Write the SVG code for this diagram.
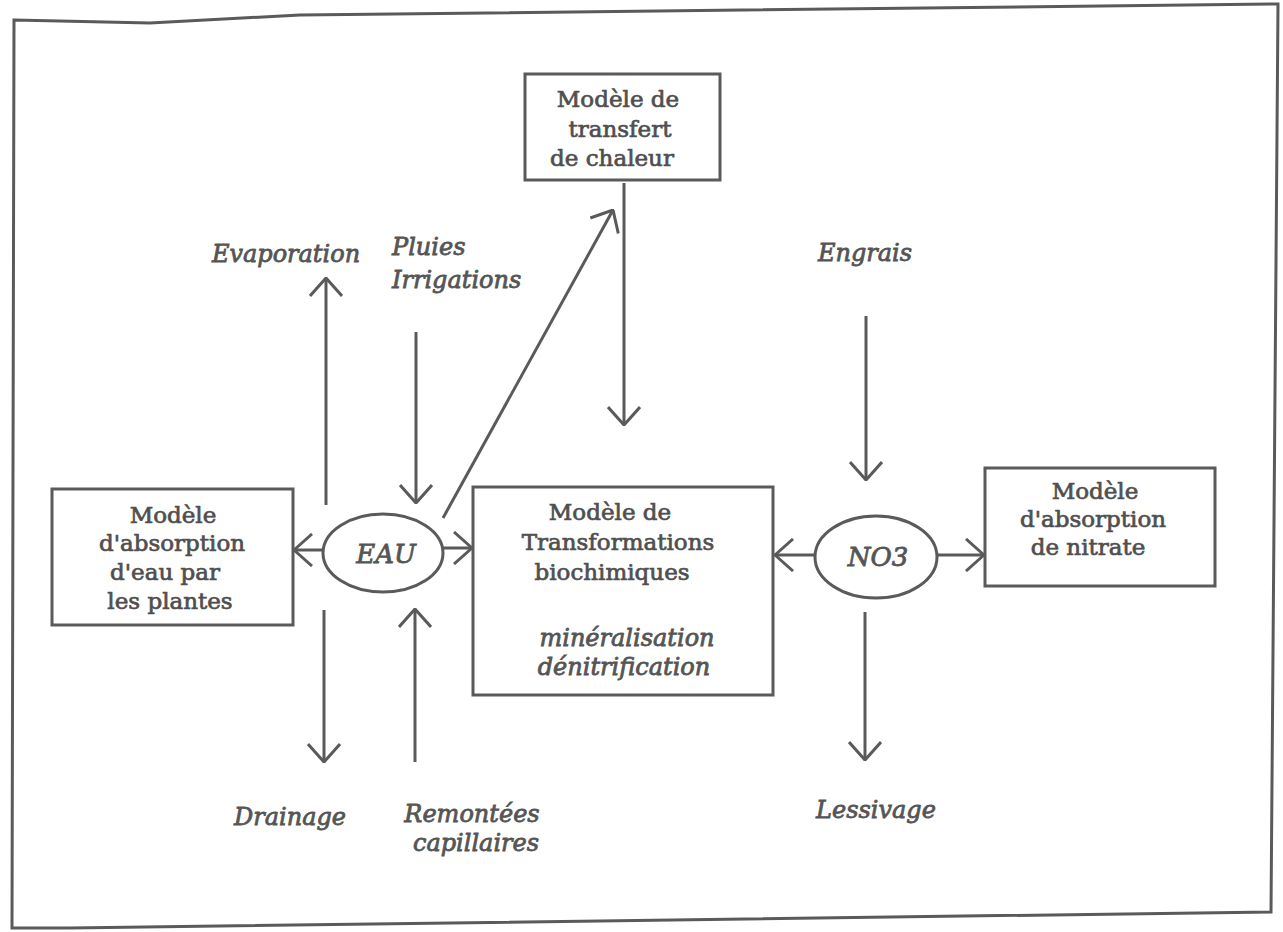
<svg xmlns="http://www.w3.org/2000/svg" width="1283" height="932" viewBox="0 0 1283 932">
<defs>
<style>
.ln{stroke:#5a5a5a;stroke-width:3;fill:none}
.bx{stroke:#5a5a5a;stroke-width:3;fill:#fff}
.t{font-family:"DejaVu Serif","Liberation Serif",serif;font-size:23px;fill:#4f4f4f;stroke:#4f4f4f;stroke-width:0.7;text-anchor:middle}
.i{font-family:"DejaVu Serif","Liberation Serif",serif;font-size:24px;font-style:italic;fill:#555;stroke:#555;stroke-width:0.8;text-anchor:middle}
.e{font-size:26px}
</style>
<marker id="ah" viewBox="0 0 20 34" refX="19" refY="17" markerWidth="20" markerHeight="34" markerUnits="userSpaceOnUse" orient="auto">
<path d="M1,1 L19,17 L1,33" fill="none" stroke="#5a5a5a" stroke-width="3"/>
</marker>
</defs>
<rect width="1283" height="932" fill="#fff"/>
<path class="ln" d="M14,20 L150,23 L300,15 L1278,4 L1271,912 L70,928 L12,928 Z"/>

<g id="connectors">
<line class="ln" x1="326" y1="505" x2="326" y2="278" marker-end="url(#ah)"/>
<line class="ln" x1="416" y1="332" x2="416" y2="503" marker-end="url(#ah)"/>
<line class="ln" x1="443" y1="518" x2="613" y2="210" marker-end="url(#ah)"/>
<line class="ln" x1="624" y1="183" x2="624" y2="425" marker-end="url(#ah)"/>
<line class="ln" x1="866" y1="316" x2="866" y2="480" marker-end="url(#ah)"/>
<line class="ln" x1="323" y1="550" x2="294" y2="550" marker-end="url(#ah)"/>
<line class="ln" x1="443" y1="548" x2="472" y2="548" marker-end="url(#ah)"/>
<line class="ln" x1="815" y1="555" x2="775" y2="555" marker-end="url(#ah)"/>
<line class="ln" x1="938" y1="555" x2="984" y2="555" marker-end="url(#ah)"/>
<line class="ln" x1="324" y1="610" x2="324" y2="762" marker-end="url(#ah)"/>
<line class="ln" x1="415" y1="762" x2="415" y2="609" marker-end="url(#ah)"/>
<line class="ln" x1="865" y1="612" x2="865" y2="760" marker-end="url(#ah)"/>
</g>

<g id="heat">
<rect class="bx" x="525" y="74" width="195" height="106"/>
<text class="t" x="618" y="107">Modèle de</text>
<text class="t" x="620" y="137">transfert</text>
<text class="t" x="612" y="166">de chaleur</text>
</g>

<g id="water-uptake">
<rect class="bx" x="52" y="489" width="241" height="136"/>
<text class="t" x="173" y="523">Modèle</text>
<text class="t" x="172" y="551">d'absorption</text>
<text class="t" x="165" y="580">d'eau par</text>
<text class="t" x="170" y="609">les plantes</text>
</g>

<g id="eau">
<ellipse class="bx" cx="383" cy="553" rx="60" ry="39"/>
<text class="i e" x="386" y="563">EAU</text>
</g>

<g id="bio">
<rect class="bx" x="473" y="487" width="300" height="208"/>
<text class="t" x="610" y="520">Modèle de</text>
<text class="t" x="618" y="550">Transformations</text>
<text class="t" x="612" y="580">biochimiques</text>
<text class="i" x="627" y="646">minéralisation</text>
<text class="i" x="624" y="675">dénitrification</text>
</g>

<g id="no3">
<ellipse class="bx" cx="876" cy="557" rx="61" ry="41"/>
<text class="i e" x="878" y="566">NO3</text>
</g>

<g id="nitrate-uptake">
<rect class="bx" x="985" y="468" width="230" height="118"/>
<text class="t" x="1095" y="499">Modèle</text>
<text class="t" x="1093" y="527">d'absorption</text>
<text class="t" x="1088" y="555">de nitrate</text>
</g>

<g id="labels">
<text class="i" x="286" y="262">Evaporation</text>
<text class="i" x="392" y="255" style="text-anchor:start">Pluies</text>
<text class="i" x="392" y="288" style="text-anchor:start">Irrigations</text>
<text class="i" x="865" y="261">Engrais</text>
<text class="i" x="290" y="825">Drainage</text>
<text class="i" x="472" y="822">Remontées</text>
<text class="i" x="476" y="851">capillaires</text>
<text class="i" x="876" y="818">Lessivage</text>
</g>
</svg>
